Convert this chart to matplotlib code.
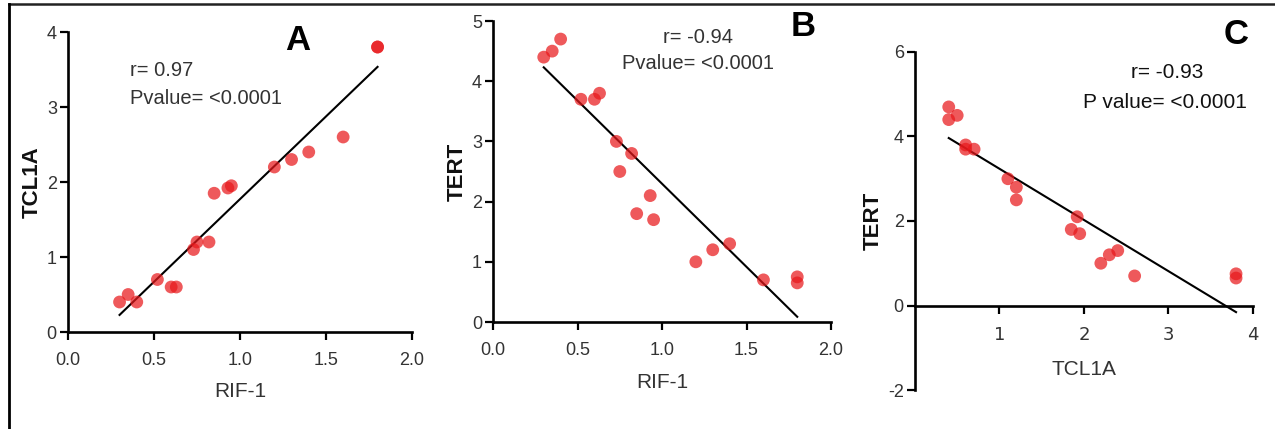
import numpy as np
import matplotlib
matplotlib.use("Agg")
import matplotlib.pyplot as plt
from matplotlib.lines import Line2D

# Data: one value per sample (18 samples)
rif1 = [0.30, 0.35, 0.40, 0.52, 0.60, 0.63, 0.73, 0.75, 0.82,
        0.85, 0.93, 0.95, 1.20, 1.30, 1.40, 1.60, 1.80, 1.80]
tcl1a = [0.40, 0.50, 0.40, 0.70, 0.60, 0.60, 1.10, 1.20, 1.20,
         1.85, 1.92, 1.95, 2.20, 2.30, 2.40, 2.60, 3.80, 3.80]
tert = [4.40, 4.50, 4.70, 3.70, 3.70, 3.80, 3.00, 2.50, 2.80,
        1.80, 2.10, 1.70, 1.00, 1.20, 1.30, 0.70, 0.75, 0.65]

panels = ["A", "B", "C"]
r_texts = ["r= 0.97", "r= -0.94", "r= -0.93"]
p_texts = ["Pvalue= <0.0001", "Pvalue= <0.0001", "P value= <0.0001"]

FONT = ["Liberation Sans", "DejaVu Sans"]
GREY = "#333333"


def scatter_panel(ax, x, y, xlabel, ylabel):
    x = np.asarray(x)
    y = np.asarray(y)
    ax.scatter(x, y, s=85, color="#e8191c", alpha=0.72, edgecolors="none", zorder=3)
    # linear regression line over the data range
    k, b = np.polyfit(x, y, 1)
    xs = np.array([x.min(), x.max()])
    ax.plot(xs, k * xs + b, color="black", lw=1.5, zorder=2)

    for s in ["top", "right"]:
        ax.spines[s].set_visible(False)
    for s in ["left", "bottom"]:
        ax.spines[s].set_linewidth(1.9)
    ax.tick_params(direction="out", length=5.5, width=1.6, labelsize=13,
                   labelcolor=GREY)
    ax.tick_params(axis="x", pad=9)
    ax.tick_params(axis="y", pad=2.5)
    for lab in ax.get_xticklabels() + ax.get_yticklabels():
        lab.set_family(FONT)
    ax.set_xlabel(xlabel, family=FONT, fontsize=15, color=GREY, va="top")
    ax.set_ylabel(ylabel, family=FONT, fontsize=16,
                  fontweight="bold", color="#111111", va="center")


fig = plt.figure(figsize=(12.75, 4.29), dpi=100)

# Panel A
axA = fig.add_axes([0.0533, 0.2261, 0.2698, 0.6993])
axA.set_xlim(0, 2.0)
axA.set_ylim(0, 4)
axA.set_xticks([0.0, 0.5, 1.0, 1.5, 2.0])
axA.set_yticks([0, 1, 2, 3, 4])
axA.set_xticklabels(["0.0", "0.5", "1.0", "1.5", "2.0"])
scatter_panel(axA, rif1, tcl1a, "RIF-1", "TCL1A")
axA.xaxis.set_label_coords(0.5, -0.165)
axA.yaxis.set_label_coords(-0.105, 0.5)
axA.text(0.36, 3.49, r_texts[0], family=FONT, fontsize=14.5, color=GREY, va="center")
axA.text(0.36, 3.12, p_texts[0], family=FONT, fontsize=14.5, color=GREY, va="center")

# Panel B
axB = fig.add_axes([0.3867, 0.2494, 0.2651, 0.7016])
axB.set_xlim(0, 2.0)
axB.set_ylim(0, 5)
axB.set_xticks([0.0, 0.5, 1.0, 1.5, 2.0])
axB.set_yticks([0, 1, 2, 3, 4, 5])
axB.set_xticklabels(["0.0", "0.5", "1.0", "1.5", "2.0"])
scatter_panel(axB, rif1, tert, "RIF-1", "TERT")
axB.xaxis.set_label_coords(0.5, -0.17)
axB.yaxis.set_label_coords(-0.106, 0.5)
axB.text(1.21, 4.73, r_texts[1], family=FONT, fontsize=14.5, color=GREY, ha="center", va="center")
axB.text(1.21, 4.30, p_texts[1], family=FONT, fontsize=14.5, color=GREY, ha="center", va="center")

# Panel C
axC = fig.add_axes([0.7176, 0.0909, 0.2651, 0.7879])
axC.set_xlim(0, 4)
axC.set_ylim(-2, 6)
axC.set_xticks([1, 2, 3, 4])
axC.set_yticks([-2, 0, 2, 4, 6])
axC.set_yticklabels(["-2", "0", "2", "4", "6"])
scatter_panel(axC, tcl1a, tert, "TCL1A", "TERT")
axC.spines["bottom"].set_position(("data", 0))
axC.xaxis.set_label_coords(0.5, 0.09)
axC.yaxis.set_label_coords(-0.124, 0.5)
axC.text(2.98, 5.51, r_texts[2], family=FONT, fontsize=15, color="#111111", ha="center", va="center")
axC.text(2.96, 4.80, p_texts[2], family=FONT, fontsize=15, color="#111111", ha="center", va="center")

# panel letters
fig.text(298 / 1275, 1 - 40 / 429, panels[0], family=FONT, fontsize=25,
         fontweight="bold", color="black", ha="center", va="center")
fig.text(803 / 1275, 1 - 26 / 429, panels[1], family=FONT, fontsize=25,
         fontweight="bold", color="black", ha="center", va="center")
fig.text(1236 / 1275, 1 - 35 / 429, panels[2], family=FONT, fontsize=25,
         fontweight="bold", color="black", ha="center", va="center")

# outer frame (top and left edges)
fig.add_artist(Line2D([8.5 / 1275, 1.0], [1 - 4 / 429, 1 - 4 / 429],
                      transform=fig.transFigure, color="#222222", lw=1.8))
fig.add_artist(Line2D([8.5 / 1275, 8.5 / 1275], [0.0, 1 - 4 / 429],
                      transform=fig.transFigure, color="black", lw=2.0))

fig.savefig("out.png", dpi=100)
